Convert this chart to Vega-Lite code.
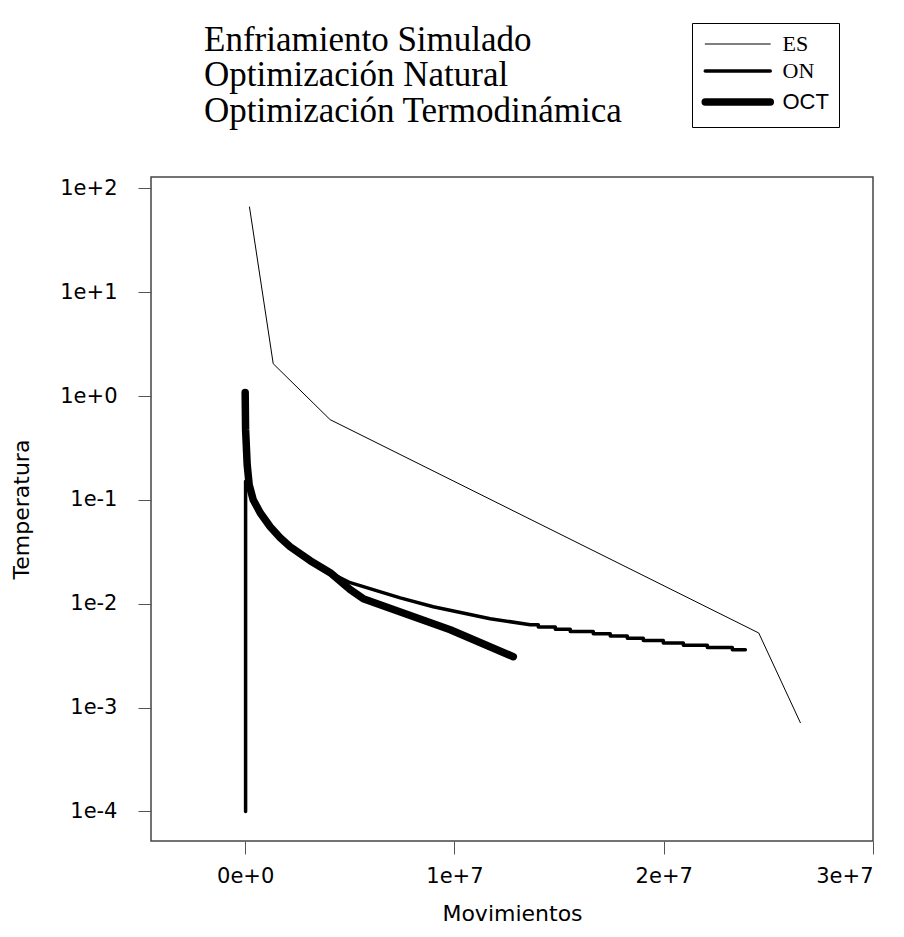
{
  "$schema": "https://vega.github.io/schema/vega-lite/v6.json",
  "width": 722,
  "height": 664,
  "autosize": {"type": "none"},
  "padding": {"left": 151, "top": 177, "right": 31, "bottom": 96},
  "background": "white",
  "config": {
    "view": {"stroke": "#444", "strokeWidth": 1.5},
    "font": "DejaVu Sans"
  },
  "title": {
    "text": ["Enfriamiento Simulado", "Optimización Natural", "Optimización Termodinámica"],
    "font": "Liberation Serif",
    "fontSize": 35,
    "fontWeight": "normal",
    "color": "black",
    "anchor": "start",
    "frame": "group",
    "dx": 53,
    "lineHeight": 35.5,
    "offset": -106
  },
  "data": {
    "values": [
      {"s": "ES", "i": 1, "x": 206000, "y": 66.2},
      {"s": "ES", "i": 2, "x": 1340000, "y": 2.05},
      {"s": "ES", "i": 3, "x": 4060000, "y": 0.593},
      {"s": "ES", "i": 4, "x": 24540000, "y": 0.00523},
      {"s": "ES", "i": 5, "x": 26530000, "y": 0.000715},

      {"s": "ON", "i": 1, "x": 20000, "y": 0.0001},
      {"s": "ON", "i": 2, "x": 20000, "y": 0.151},
      {"s": "ON", "i": 3, "x": 191000, "y": 0.1255},
      {"s": "ON", "i": 4, "x": 382000, "y": 0.1005},
      {"s": "ON", "i": 5, "x": 717000, "y": 0.0753},
      {"s": "ON", "i": 6, "x": 1195000, "y": 0.0552},
      {"s": "ON", "i": 7, "x": 1673000, "y": 0.0433},
      {"s": "ON", "i": 8, "x": 2151000, "y": 0.0354},
      {"s": "ON", "i": 9, "x": 3107000, "y": 0.026},
      {"s": "ON", "i": 10, "x": 4063000, "y": 0.0199},
      {"s": "ON", "i": 11, "x": 5019000, "y": 0.01595},
      {"s": "ON", "i": 12, "x": 7409000, "y": 0.0114},
      {"s": "ON", "i": 13, "x": 8987000, "y": 0.00937},
      {"s": "ON", "i": 14, "x": 11710000, "y": 0.00718},
      {"s": "ON", "i": 15, "x": 13623000, "y": 0.006283},
      {"s": "ON", "i": 16, "x": 14006000, "y": 0.006283},
      {"s": "ON", "i": 17, "x": 14006000, "y": 0.005973},
      {"s": "ON", "i": 18, "x": 14818000, "y": 0.005973},
      {"s": "ON", "i": 19, "x": 14818000, "y": 0.005689},
      {"s": "ON", "i": 20, "x": 15535000, "y": 0.005689},
      {"s": "ON", "i": 21, "x": 15535000, "y": 0.005405},
      {"s": "ON", "i": 22, "x": 16635000, "y": 0.005405},
      {"s": "ON", "i": 23, "x": 16635000, "y": 0.005136},
      {"s": "ON", "i": 24, "x": 17447000, "y": 0.005136},
      {"s": "ON", "i": 25, "x": 17447000, "y": 0.004881},
      {"s": "ON", "i": 26, "x": 18260000, "y": 0.004881},
      {"s": "ON", "i": 27, "x": 18260000, "y": 0.004648},
      {"s": "ON", "i": 28, "x": 19025000, "y": 0.004648},
      {"s": "ON", "i": 29, "x": 19025000, "y": 0.004418},
      {"s": "ON", "i": 30, "x": 19981000, "y": 0.004418},
      {"s": "ON", "i": 31, "x": 19981000, "y": 0.004198},
      {"s": "ON", "i": 32, "x": 20937000, "y": 0.004198},
      {"s": "ON", "i": 33, "x": 20937000, "y": 0.00399},
      {"s": "ON", "i": 34, "x": 22084000, "y": 0.00399},
      {"s": "ON", "i": 35, "x": 22084000, "y": 0.003799},
      {"s": "ON", "i": 36, "x": 23279000, "y": 0.003799},
      {"s": "ON", "i": 37, "x": 23279000, "y": 0.00361},
      {"s": "ON", "i": 38, "x": 23901000, "y": 0.00361},

      {"s": "OCT", "i": 1, "x": 0, "y": 1.08},
      {"s": "OCT", "i": 2, "x": 20000, "y": 0.475},
      {"s": "OCT", "i": 3, "x": 95600, "y": 0.2184},
      {"s": "OCT", "i": 4, "x": 191000, "y": 0.1402},
      {"s": "OCT", "i": 5, "x": 382000, "y": 0.1005},
      {"s": "OCT", "i": 6, "x": 717000, "y": 0.0753},
      {"s": "OCT", "i": 7, "x": 1195000, "y": 0.0552},
      {"s": "OCT", "i": 8, "x": 1673000, "y": 0.0433},
      {"s": "OCT", "i": 9, "x": 2151000, "y": 0.0354},
      {"s": "OCT", "i": 10, "x": 3107000, "y": 0.026},
      {"s": "OCT", "i": 11, "x": 4063000, "y": 0.0199},
      {"s": "OCT", "i": 12, "x": 5019000, "y": 0.01366},
      {"s": "OCT", "i": 13, "x": 5641000, "y": 0.01119},
      {"s": "OCT", "i": 14, "x": 9799000, "y": 0.005626},
      {"s": "OCT", "i": 15, "x": 12811000, "y": 0.003091}
    ]
  },
  "mark": {"type": "line", "color": "black", "strokeCap": "round", "strokeJoin": "round"},
  "encoding": {
    "x": {
      "field": "x",
      "type": "quantitative",
      "scale": {"domain": [-4500000, 30000000], "nice": false, "zero": false},
      "axis": {
        "title": "Movimientos",
        "values": [0, 10000000, 20000000, 30000000],
        "format": ".0e",
        "grid": false,
        "domain": false,
        "tickSize": 13,
        "tickColor": "#555",
        "labelFontSize": 21,
        "labelColor": "black",
        "labelPadding": 11,
        "labelFont": "DejaVu Sans",
        "titleFont": "DejaVu Sans",
        "titleFontSize": 22,
        "titleFontWeight": "normal",
        "titleColor": "black",
        "titlePadding": 17
      }
    },
    "y": {
      "field": "y",
      "type": "quantitative",
      "scale": {"type": "log", "domain": [0.0000519, 128.8], "nice": false},
      "axis": {
        "title": "Temperatura",
        "values": [0.0001, 0.001, 0.01, 0.1, 1, 10, 100],
        "format": ".0e",
        "grid": false,
        "domain": false,
        "tickSize": 13,
        "tickColor": "#555",
        "labelFontSize": 21,
        "labelColor": "black",
        "labelPadding": 21,
        "labelFont": "DejaVu Sans",
        "titleFont": "DejaVu Sans",
        "titleFontSize": 22,
        "titleFontWeight": "normal",
        "titleColor": "black",
        "titlePadding": 26
      }
    },
    "strokeWidth": {
      "field": "s",
      "type": "ordinal",
      "scale": {"type": "ordinal", "domain": ["ES", "ON", "OCT"], "range": [1, 3.5, 7.5]},
      "legend": {
        "title": null,
        "orient": "none",
        "legendX": 541,
        "legendY": -154,
        "symbolType": "M-1.107,0H8.179",
        "symbolSize": 196,
        "symbolStrokeColor": "black",
        "rowPadding": 5,
        "labelOffset": 58.5,
        "labelFontSize": 22,
        "labelFont": "Liberation Serif",
        "labelColor": "black",
        "strokeColor": "black",
        "padding": 10,
        "encode": {
          "labels": {
            "update": {
              "font": {"signal": "datum.label === 'OCT' ? 'Liberation Sans' : 'Liberation Serif'"}
            }
          },
          "symbols": {
            "update": {
              "strokeCap": {"value": "round"}
            }
          }
        }
      }
    },
    "order": {"field": "i", "type": "quantitative"}
  }
}
